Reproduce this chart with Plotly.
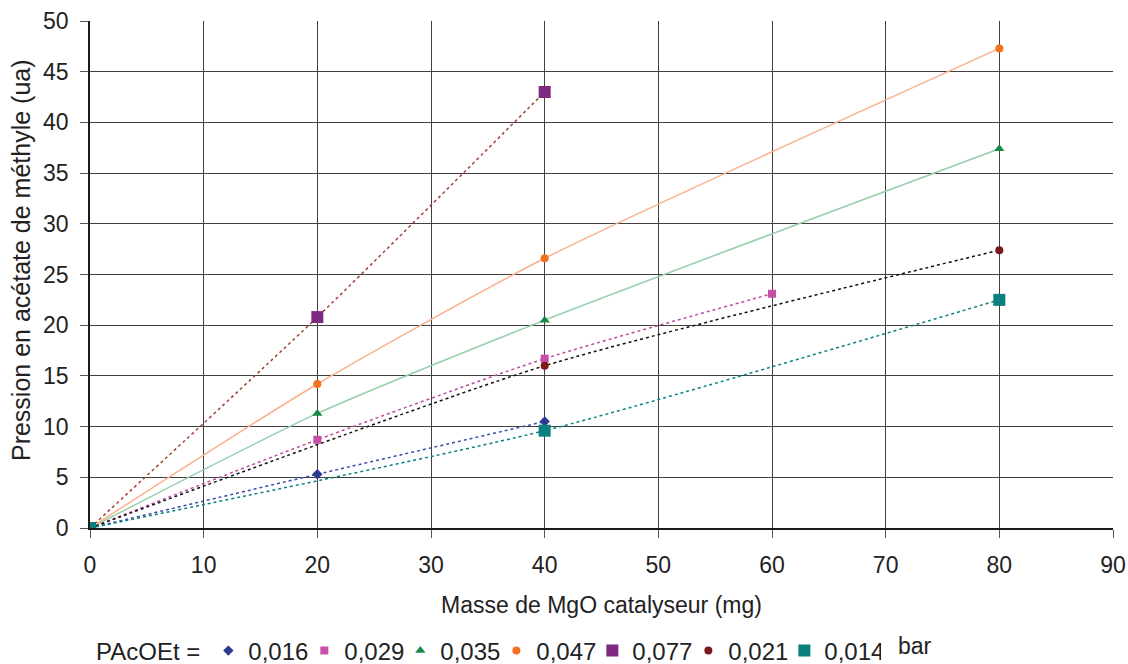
import plotly.graph_objects as go

# ---- data ----
labels = ["0,016", "0,029", "0,035", "0,047", "0,077", "0,021", "0,014"]

x_016 = [0, 20, 40]
y_016 = [0, 5.3, 10.5]

x_029 = [0, 20, 40, 60]
y_029 = [0, 8.7, 16.7, 23.1]

x_035 = [0, 20, 40, 80]
y_035 = [0, 11.3, 20.5, 37.4]

x_047 = [0, 20, 40, 80]
y_047 = [0, 14.2, 26.6, 47.3]

x_077 = [0, 20, 40]
y_077 = [0, 20.8, 43.0]

x_021 = [0, 40, 80]
y_021 = [0, 16.0, 27.4]

x_014 = [0, 40, 80]
y_014 = [0, 9.6, 22.5]

x_ticks = [0, 10, 20, 30, 40, 50, 60, 70, 80, 90]
y_ticks = [0, 5, 10, 15, 20, 25, 30, 35, 40, 45, 50]

FONT = "Liberation Sans, Arial, sans-serif"
TXT = "#222222"

series = [
    # label, x, y, marker color, symbol, size, line color, dash
    (labels[0], x_016, y_016, "#2B3990", "diamond", 8, "#3A4DA8", "dot"),
    (labels[1], x_029, y_029, "#C850A8", "square", 8, "#C04AA0", "dot"),
    (labels[2], x_035, y_035, "#178A47", "triangle-up", 9, "#93D0AA", "solid"),
    (labels[3], x_047, y_047, "#F37021", "circle", 8, "#FBB08C", "solid"),
    (labels[4], x_077, y_077, "#7D2A80", "square", 12, "#A2422E", "dot"),
    (labels[5], x_021, y_021, "#7A1A1A", "circle", 8, "#111111", "dot"),
    (labels[6], x_014, y_014, "#0A7F7F", "square", 12, "#0C8080", "dot"),
]

fig = go.Figure()

# trend curves (drawn first, not in legend)
for name, xs, ys, mc, sym, sz, lc, dash in series:
    fig.add_trace(go.Scatter(
        x=xs, y=ys, mode="lines", showlegend=False, hoverinfo="skip",
        line=dict(color=lc, width=1.5, dash=dash, shape="spline", smoothing=0.6),
    ))

# data markers (legend entries)
for name, xs, ys, mc, sym, sz, lc, dash in series:
    fig.add_trace(go.Scatter(
        x=xs, y=ys, mode="markers", name=name,
        marker=dict(color=mc, symbol=sym, size=sz, line=dict(width=0)),
    ))

axis_common = dict(
    showgrid=True, gridcolor="#404040", gridwidth=1.4,
    showline=True, linecolor="#1a1a1a", linewidth=1.5,
    ticks="outside", ticklen=8, tickcolor="#555555", tickwidth=1.3,
    zeroline=False, tickfont=dict(family=FONT, size=23, color=TXT),
)

fig.update_xaxes(
    range=[0, 90], tickvals=x_ticks, ticktext=[str(v) for v in x_ticks],
    title=dict(text="Masse de MgO catalyseur (mg)", font=dict(family=FONT, size=23, color=TXT), standoff=20),
    ticklabelstandoff=8,
    **axis_common,
)
fig.update_yaxes(
    range=[0, 50], tickvals=y_ticks, ticktext=[str(v) for v in y_ticks],
    ticklabelstandoff=7,
    **axis_common,
)

fig.update_layout(
    width=1128, height=664,
    margin=dict(l=90, r=15, t=21, b=136, autoexpand=False),
    paper_bgcolor="white", plot_bgcolor="white",
    font=dict(family=FONT, color=TXT),
    legend=dict(
        orientation="h", x=0.004, xanchor="left", y=-0.2426, yanchor="middle",
        title=dict(text="PAcOEt =", side="left", font=dict(family=FONT, size=24, color=TXT)),
        font=dict(family=FONT, size=24, color=TXT),
        entrywidth=51, entrywidthmode="pixels",
        bgcolor="rgba(0,0,0,0)", borderwidth=0,
        itemclick=False, itemdoubleclick=False,
    ),
    annotations=[
        dict(
            text="bar", xref="paper", yref="paper", x=0.788, y=-0.232,
            xanchor="left", yanchor="middle", showarrow=False,
            font=dict(family=FONT, size=23, color=TXT),
        ),
        dict(
            text="Pression en acétate de méthyle (ua)", textangle=-90,
            xref="paper", yref="paper", x=-0.0674, y=0.5286,
            xanchor="center", yanchor="middle", showarrow=False,
            font=dict(family=FONT, size=25, color=TXT),
        ),
    ],
)

fig.write_html(
    "out.html",
    config={"displayModeBar": False},
    post_script="document.body.style.margin='0';",
)
